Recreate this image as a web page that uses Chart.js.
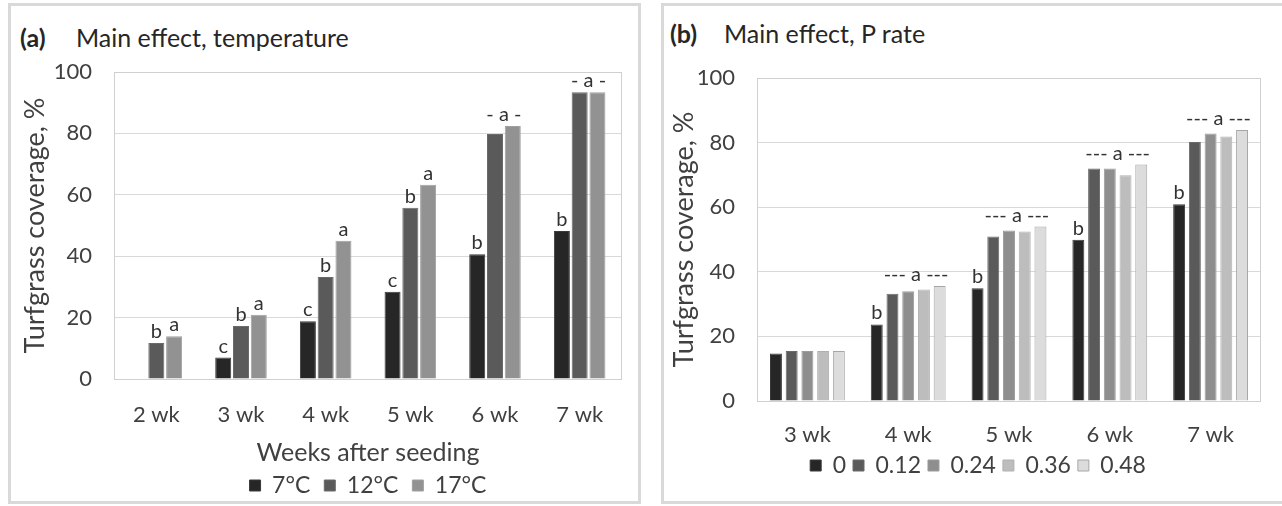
<!DOCTYPE html>
<html>
<head>
<meta charset="utf-8">
<script src="https://cdn.jsdelivr.net/npm/chart.js@4"></script>
<style>
  body { margin: 0; background: #fff; width: 1282px; height: 506px; overflow: hidden; position: relative; font-family: Lato, sans-serif; }
  .panel { position: absolute; border: 3px solid #d9d9d9; box-sizing: border-box; }
  #panelA { left: 8px; top: 3px; width: 633px; height: 501px; }
  #panelB { left: 661px; top: 3px; width: 640px; height: 501px; }
  .tag, .ttl { position: absolute; font-size: 25px; color: #262626; white-space: nowrap; line-height: 1; }
  .tag { font-weight: bold; }
  canvas { position: absolute; }
  #chartA { left: 8px; top: 3px; }
  #chartB { left: 661px; top: 3px; }
</style>
</head>
<body>
<div class="panel" id="panelA"></div>
<div class="panel" id="panelB"></div>
<div class="tag" style="left:20px;top:25px">(a)</div>
<div class="ttl" style="left:76px;top:25px">Main effect, temperature</div>
<div class="tag" style="left:670px;top:21px">(b)</div>
<div class="ttl" style="left:724px;top:21px">Main effect, P rate</div>
<canvas id="chartA" width="633" height="504"></canvas>
<canvas id="chartB" width="640" height="504"></canvas>
<script>
// panel (a): temperature
const weeksA = ['2 wk', '3 wk', '4 wk', '5 wk', '6 wk', '7 wk'];
const temp7 = [null, 7.0, 18.8, 28.4, 40.6, 48.2];
const temp12 = [11.7, 17.3, 33.2, 55.8, 79.8, 93.4];
const temp17 = [13.9, 20.9, 45.0, 63.3, 82.4, 93.4];
const lettersA = [
  ['', 'c', 'c', 'c', 'b', 'b'],
  ['b', 'b', 'b', 'b', '', ''],
  ['a', 'a', 'a', 'a', '', '']
];
const groupLettersA = ['', '', '', '', '- a -', '- a -'];

// panel (b): P rate
const weeksB = ['3 wk', '4 wk', '5 wk', '6 wk', '7 wk'];
const p000 = [14.7, 23.7, 34.9, 49.9, 60.9];
const p012 = [15.5, 33.2, 50.9, 72.0, 80.2];
const p024 = [15.5, 34.0, 52.8, 72.0, 82.8];
const p036 = [15.5, 34.5, 52.5, 69.9, 81.9];
const p048 = [15.5, 35.6, 54.0, 73.2, 83.9];
const lettersB = [
  ['', 'b', 'b', 'b', 'b'],
  ['', '', '', '', ''],
  ['', '', '', '', ''],
  ['', '', '', '', ''],
  ['', '', '', '', '']
];
const groupLettersB = ['', '--- a ---', '--- a ---', '--- a ---', '--- a ---'];

const FONT = 'Lato';

// letters above bars, and group letters over several bars
const letterPlugin = {
  id: 'letters',
  afterDatasetsDraw(chart, args, opts) {
    const ctx = chart.ctx;
    ctx.save();
    ctx.font = '20px ' + FONT;
    ctx.fillStyle = '#333';
    ctx.textAlign = 'center';
    ctx.textBaseline = 'alphabetic';
    opts.letters.forEach((row, d) => {
      const meta = chart.getDatasetMeta(d);
      row.forEach((txt, i) => {
        if (!txt) return;
        const bar = meta.data[i];
        ctx.fillText(txt, bar.x, bar.y - 5);
      });
    });
    opts.groups.forEach((txt, i) => {
      if (!txt) return;
      const bars = opts.groupSets.map(d => chart.getDatasetMeta(d).data[i]);
      const left = Math.min(...bars.map(b => b.x - b.width / 2));
      const right = Math.max(...bars.map(b => b.x + b.width / 2));
      const top = Math.min(...bars.map(b => b.y));
      ctx.fillText(txt, (left + right) / 2, top - 5);
    });
    ctx.restore();
  }
};

// light border round the plot area
const framePlugin = {
  id: 'frame',
  beforeDatasetsDraw(chart) {
    const {ctx, chartArea: a} = chart;
    ctx.save();
    ctx.strokeStyle = '#d0d0d0';
    ctx.lineWidth = 1;
    ctx.strokeRect(a.left + 0.5, a.top + 0.5, a.right - a.left - 1, a.bottom - a.top);
    ctx.restore();
  }
};

function yAxis(width, titlePad, tickPad) {
  return {
    min: 0,
    max: 100,
    afterFit: s => { s.width = width; },
    ticks: { stepSize: 20, padding: tickPad, color: '#404040', font: { family: FONT, size: 22 } },
    grid: { color: '#d9d9d9', drawTicks: false },
    border: { display: false },
    title: {
      display: true,
      text: 'Turfgrass coverage, %',
      color: '#404040',
      font: { family: FONT, size: 27 },
      padding: { top: titlePad, bottom: 0 }
    }
  };
}

function legendLabels(pad) {
  return { boxWidth: 11, boxHeight: 11, padding: pad, color: '#404040', font: { family: FONT, size: 23 } };
}

new Chart(document.getElementById('chartA'), {
  type: 'bar',
  data: {
    labels: weeksA,
    datasets: [
      { label: '7°C', data: temp7, backgroundColor: '#262626', borderColor: '#3a3a3a', borderWidth: 1 },
      { label: '12°C', data: temp12, backgroundColor: '#5a5a5a', borderColor: '#6a6a6a', borderWidth: 1 },
      { label: '17°C', data: temp17, backgroundColor: '#929292', borderColor: '#a0a0a0', borderWidth: 1 }
    ]
  },
  options: {
    responsive: false,
    animation: false,
    categoryPercentage: 0.63,
    barPercentage: 0.9,
    layout: { padding: { left: 0, right: 19, top: 69, bottom: 0 } },
    scales: {
      x: {
        afterFit: s => { s.height = 81; },
        grid: { display: false, drawTicks: false },
        border: { display: false },
        ticks: { padding: 23, color: '#404040', font: { family: FONT, size: 22 } },
        title: {
          display: true,
          text: 'Weeks after seeding',
          color: '#404040',
          font: { family: FONT, size: 25 },
          padding: { top: 0, bottom: -8 }
        }
      },
      y: yAxis(106, 11, 22)
    },
    plugins: {
      legend: { position: 'bottom', fullSize: false, labels: legendLabels(14) },
      tooltip: { enabled: false },
      letters: { letters: lettersA, groups: groupLettersA, groupSets: [1, 2] }
    }
  },
  plugins: [framePlugin, letterPlugin]
});

new Chart(document.getElementById('chartB'), {
  type: 'bar',
  data: {
    labels: weeksB,
    datasets: [
      { label: '0', data: p000, backgroundColor: '#262626', borderColor: '#3a3a3a', borderWidth: 1 },
      { label: '0.12', data: p012, backgroundColor: '#5a5a5a', borderColor: '#6a6a6a', borderWidth: 1 },
      { label: '0.24', data: p024, backgroundColor: '#8e8e8e', borderColor: '#9c9c9c', borderWidth: 1 },
      { label: '0.36', data: p036, backgroundColor: '#bdbdbd', borderColor: '#b0b0b0', borderWidth: 1 },
      { label: '0.48', data: p048, backgroundColor: '#dcdcdc', borderColor: '#a6a6a6', borderWidth: 1 }
    ]
  },
  options: {
    responsive: false,
    animation: false,
    categoryPercentage: 0.78,
    barPercentage: 0.76,
    layout: { padding: { left: 34, right: 40, top: 75, bottom: 20 } },
    scales: {
      x: {
        afterFit: s => { s.height = 46; },
        grid: { display: false, drawTicks: false },
        border: { display: false },
        ticks: { padding: 21, color: '#404040', font: { family: FONT, size: 22 } }
      },
      y: yAxis(62, -27, 22)
    },
    plugins: {
      legend: { position: 'bottom', labels: legendLabels(7) },
      tooltip: { enabled: false },
      letters: { letters: lettersB, groups: groupLettersB, groupSets: [1, 2, 3, 4] }
    }
  },
  plugins: [framePlugin, letterPlugin]
});
</script>
</body>
</html>
